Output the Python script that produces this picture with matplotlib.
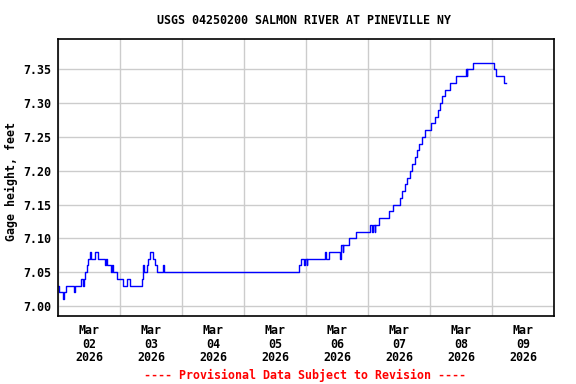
import datetime as dt
import matplotlib
matplotlib.use('Agg')
import matplotlib.pyplot as plt
import matplotlib.dates as mdates

# gage height readings, read off the chart as step changes
# hours after 2026-03-02 00:00, and the value from that hour on
hours = [0, 0.25, 1.8, 2.2, 3.1, 6.2, 6.7, 8.9, 9.5, 10.2, 10.6, 11.1, 11.5,
	12.3, 12.6, 14.3, 15.4, 18.3, 18.6, 19.0, 20.5, 20.8, 21.2, 23.0, 25.0,
	26.6, 27.9, 32.4, 32.8, 33.0, 33.3, 34.3, 34.8, 35.6, 36.9, 37.7, 38.4,
	40.8, 41.1, 93.3, 94.1, 95.2, 95.5, 96.2, 96.5, 103.4, 103.7, 104.9,
	109.2, 109.6, 110.2, 110.5, 112.6, 115.4, 120.8, 121.6, 122.0, 122.6,
	122.9, 124.3, 128.1, 129.8, 132.4, 133.2, 134.3, 135.1, 136.2, 137.0,
	138.0, 139.1, 139.9, 141.0, 142.2, 144.4, 145.9, 147.1, 147.9, 148.6,
	149.8, 151.7, 154.1, 157.9, 158.2, 158.5, 160.6, 168.7, 169.6, 172.8,
	173.4]
values = [7.03, 7.02, 7.01, 7.02, 7.03, 7.02, 7.03, 7.04, 7.03, 7.04, 7.05, 7.06, 7.07,
	7.08, 7.07, 7.08, 7.07, 7.06, 7.07, 7.06, 7.05, 7.06, 7.05, 7.04, 7.03,
	7.04, 7.03, 7.04, 7.05, 7.06, 7.05, 7.06, 7.07, 7.08, 7.07, 7.06, 7.05,
	7.06, 7.05, 7.06, 7.07, 7.06, 7.07, 7.06, 7.07, 7.08, 7.07, 7.08,
	7.07, 7.09, 7.08, 7.09, 7.10, 7.11, 7.12, 7.11, 7.12, 7.11,
	7.12, 7.13, 7.14, 7.15, 7.16, 7.17, 7.18, 7.19, 7.20, 7.21,
	7.22, 7.23, 7.24, 7.25, 7.26, 7.27, 7.28, 7.29, 7.30, 7.31,
	7.32, 7.33, 7.34, 7.35, 7.34, 7.35, 7.36, 7.35, 7.34, 7.33,
	7.33]

title = 'USGS 04250200 SALMON RIVER AT PINEVILLE NY'
ylabel = 'Gage height, feet'
footer = '---- Provisional Data Subject to Revision ----'
yticks = [7.00, 7.05, 7.10, 7.15, 7.20, 7.25, 7.30, 7.35]

start = dt.datetime(2026, 3, 2)
times = [start + dt.timedelta(hours=h) for h in hours]

font = 'DejaVu Sans Mono'
fs = 8.4

fig = plt.figure(figsize=(5.76, 3.84), dpi=100)
ax = fig.add_axes([58 / 576, 1 - 316 / 384, 496 / 576, 277 / 384])

ax.plot(times, values, color='#0000ff', lw=1, drawstyle='steps-post')

ax.set_xlim(start, start + dt.timedelta(days=8))
ax.set_ylim(6.9852, 7.3948)

ax.xaxis.set_major_locator(mdates.DayLocator())
ax.xaxis.set_major_formatter(plt.NullFormatter())
ax.xaxis.set_minor_locator(mdates.HourLocator(byhour=12))
ax.xaxis.set_minor_formatter(mdates.DateFormatter('%b\n%d\n%Y'))
ax.set_yticks(yticks)
ax.set_yticklabels(['%.2f' % t for t in yticks])

ax.tick_params(axis='both', which='both', length=0)
ax.tick_params(axis='y', pad=5)
ax.tick_params(axis='x', which='minor', pad=6)
for lab in ax.get_yticklabels() + ax.get_xticklabels(minor=True):
	lab.set_fontfamily(font)
	lab.set_fontweight('bold')
	lab.set_fontsize(fs)
	lab.set_linespacing(1.02)

ax.grid(True, which='major', color='#cccccc', lw=1)
ax.set_axisbelow(True)
for s in ax.spines.values():
	s.set_linewidth(1.2)
	s.set_color('black')

fig.text(304 / 576, 1 - 20 / 384, title, ha='center', va='center',
	family=font, weight='bold', size=fs)
fig.text(11 / 576, 1 - 182 / 384, ylabel, ha='center', va='center', rotation=90,
	family=font, weight='bold', size=fs)
fig.text(305 / 576, 1 - 375 / 384, footer, ha='center', va='center',
	family=font, weight='bold', size=fs, color='#ff0000')

fig.savefig('out.png', dpi=100)
